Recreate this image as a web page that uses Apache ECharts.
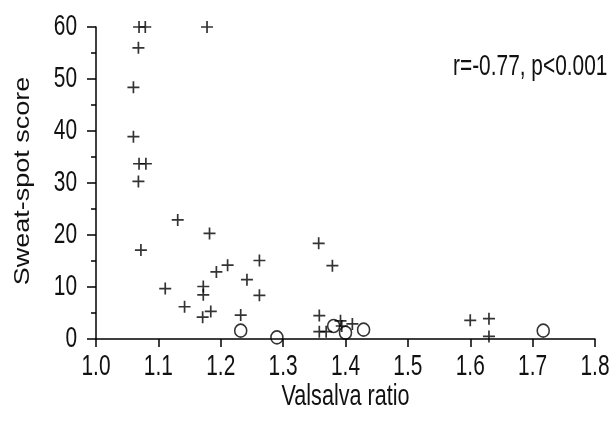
<!DOCTYPE html>
<html>
<head>
<meta charset="utf-8">
<script src="https://cdn.jsdelivr.net/npm/echarts@6/dist/echarts.min.js"></script>
<style>
  html, body { margin: 0; padding: 0; background: #fff; }
  #chart { width: 613px; height: 425px; }
</style>
</head>
<body>
<div id="chart"></div>
<script>
// valsalva ratio vs sweat-spot score
const plusX = [1.069, 1.079, 1.178, 1.068, 1.060, 1.060, 1.069, 1.080, 1.068,
               1.131, 1.182, 1.072, 1.211, 1.262, 1.193, 1.242, 1.111, 1.172,
               1.172, 1.262, 1.142, 1.184, 1.171, 1.232,
               1.357, 1.379, 1.358, 1.392, 1.394, 1.411, 1.358, 1.369,
               1.600, 1.630, 1.630];
const plusY = [60, 60, 60, 56.0, 48.4, 38.9, 33.7, 33.7, 30.3,
               22.9, 20.3, 17.1, 14.2, 15.1, 12.9, 11.4, 9.7, 10.1,
               8.5, 8.4, 6.2, 5.3, 4.2, 4.6,
               18.4, 14.1, 4.5, 3.5, 2.5, 2.9, 1.4, 1.4,
               3.6, 3.9, 0.5];
const circX = [1.232, 1.290, 1.381, 1.400, 1.429, 1.717];
const circY = [1.6, 0.3, 2.5, 1.2, 1.8, 1.6];

const xTicks = [1.0, 1.1, 1.2, 1.3, 1.4, 1.5, 1.6, 1.7, 1.8];
const yTicks = [0, 10, 20, 30, 40, 50, 60];

// the original figure is squeezed sideways, so text gets narrowed too
const font = '"Liberation Sans", Arial, sans-serif';
const squeeze = 0.72;
const ink = '#111';

const chart = echarts.init(document.getElementById('chart'));

const axisCommon = {
  axisLine: { show: true, lineStyle: { color: '#000', width: 1.5 } },
  axisTick: { show: true, inside: false, length: 8, lineStyle: { color: '#000', width: 1.5 } },
  axisLabel: { show: false },
  splitLine: { show: false }
};

chart.setOption({
  animation: false,
  backgroundColor: '#fff',
  grid: { left: 96, right: 18, top: 27, bottom: 86 },
  xAxis: Object.assign({}, axisCommon, {
    type: 'value',
    min: 1.0, max: 1.8, interval: 0.1
  }),
  yAxis: Object.assign({}, axisCommon, {
    type: 'value',
    min: 0, max: 60, interval: 10,
    axisTick: { show: true, length: 9, lineStyle: { color: '#000', width: 1.5 } },
    minorTick: { show: true, splitNumber: 2, length: 5, lineStyle: { color: '#000', width: 1.5 } }
  }),
  series: [
    {
      type: 'scatter',
      data: plusX.map((x, i) => [x, plusY[i]]),
      symbol: 'path://M5,0V10M0,5H10',
      symbolSize: 12,
      itemStyle: { color: 'rgba(0,0,0,0)', borderColor: '#000', borderWidth: 1.7 }
    },
    {
      type: 'scatter',
      data: circX.map((x, i) => [x, circY[i]]),
      symbol: 'circle',
      symbolSize: [12, 13],
      itemStyle: { color: 'rgba(0,0,0,0)', borderColor: '#000', borderWidth: 1.6 }
    }
  ]
});

// narrow tick labels and titles, placed through the axis scales
function txt(x, y, text, size, align, vAlign, extra) {
  return Object.assign({
    type: 'text', x: x, y: y, scaleX: squeeze,
    style: { text: text, fill: ink, font: size + 'px ' + font, align: align, verticalAlign: vAlign }
  }, extra || {});
}

const items = [];
xTicks.forEach(v => {
  const p = chart.convertToPixel({ gridIndex: 0 }, [v, 0]);
  items.push(txt(p[0], p[1] + 28, v.toFixed(1), 29, 'center', 'middle'));
});
yTicks.forEach(v => {
  const p = chart.convertToPixel({ gridIndex: 0 }, [1.0, v]);
  items.push(txt(p[0] - 19, p[1], String(v), 29, 'right', 'middle'));
});
const mid = chart.convertToPixel({ gridIndex: 0 }, [1.4, 30]);
items.push(txt(mid[0], 397, 'Valsalva ratio', 30, 'center', 'middle'));
items.push({
  type: 'text', x: 23, y: mid[1] - 2, rotation: Math.PI / 2, scaleY: 0.8,
  style: { text: 'Sweat-spot score', fill: ink, font: '27px ' + font, align: 'center', verticalAlign: 'middle' }
});
items.push(txt(453, 67, 'r=-0.77, p<0.001', 29, 'left', 'middle'));

chart.setOption({ graphic: items });
</script>
</body>
</html>
